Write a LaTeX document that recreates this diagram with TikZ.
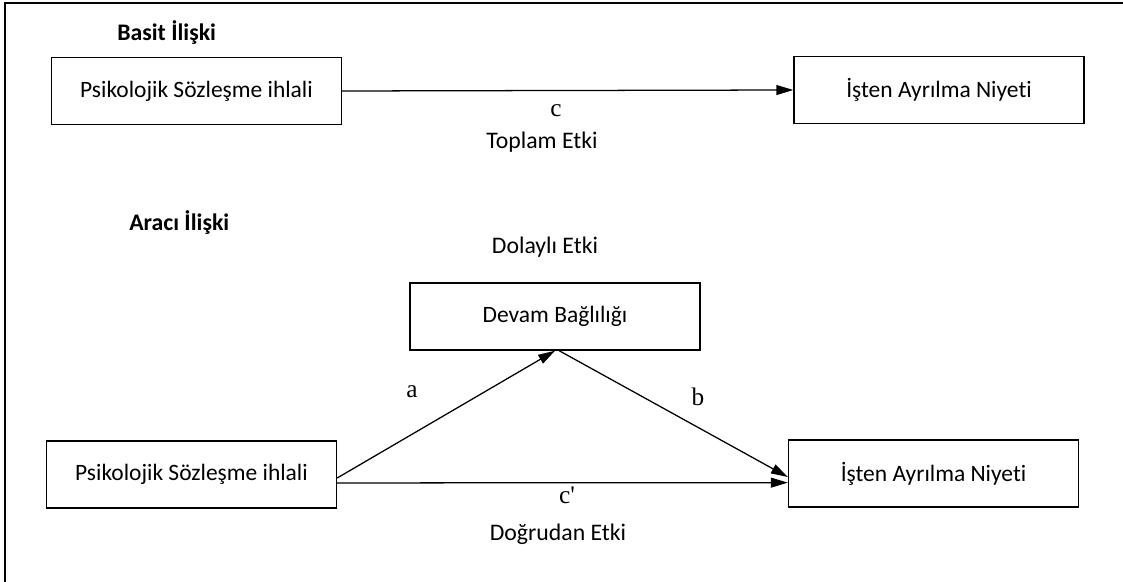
\documentclass[tikz,border=0pt]{standalone}
\usepackage{fontspec}
\setmainfont{Carlito}[Ligatures=NoCommon]
\newfontfamily\serifletter{Liberation Serif}
\usetikzlibrary{positioning,arrows.meta}

\begin{document}
\begin{tikzpicture}[x=0.025cm, y=-0.025cm, >={Triangle[length=12pt,width=7pt]},
    varbox/.style={draw, line width=0.9pt, minimum width=7.25cm, minimum height=1.68cm, font=\fontsize{16.7}{20}\selectfont},
    pathlbl/.style={font=\serifletter\fontsize{18}{21}\selectfont},
    effectlbl/.style={font=\fontsize{16.9}{20}\selectfont},
    headlbl/.style={anchor=west, inner sep=0pt, font=\bfseries\fontsize{16.9}{20}\selectfont}]
    \useasboundingbox (0,0) rectangle (1123,582);

    % Cerceve
    \draw[line width=1.3pt] (5,3) rectangle (1140,600);

    % Basit iliski
    \node[headlbl] (basit) at (117,33) {Basit İlişki};
    \node[varbox] (psc1) at (196.5,91) {Psikolojik Sözleşme ihlali};
    \node[varbox] (ian1) at (939,90) {İşten Ayrılma Niyeti};
    \draw[->, line width=0.9pt] (psc1.east) -- (ian1.west);
    \node[pathlbl] (c) at (556,111) {c};
    \node[effectlbl] (toplam) at (542,142) {Toplam Etki};

    % Araci iliski
    \node[headlbl] (araci) at (129,223) {Aracı İlişki};
    \node[effectlbl] (dolayli) at (545,247) {Dolaylı Etki};
    \node[varbox] (devam) at (555,316.5) {Devam Bağlılığı};
    \node[varbox] (psc2) at (191.5,474.5) {Psikolojik Sözleşme ihlali};
    \node[varbox] (ian2) at (933.5,473.5) {İşten Ayrılma Niyeti};

    % Yollar
    \draw[->, line width=0.9pt] ([yshift=-2.5pt]psc2.east) -- (devam.south);
    \draw[->, line width=0.9pt] ([xshift=3pt]devam.south) -- ([yshift=-2.5pt]ian2.west);
    \draw[->, line width=0.9pt] ([yshift=-6pt]psc2.east) -- ([yshift=-6.5pt]ian2.west);
    \node[pathlbl] (a) at (412,392) {a};
    \node[pathlbl] (b) at (698,397) {b};
    \node[pathlbl] (cp) at (567,495) {c'};
    \node[effectlbl] (dogrudan) at (558,534) {Doğrudan Etki};
\end{tikzpicture}
\end{document}
